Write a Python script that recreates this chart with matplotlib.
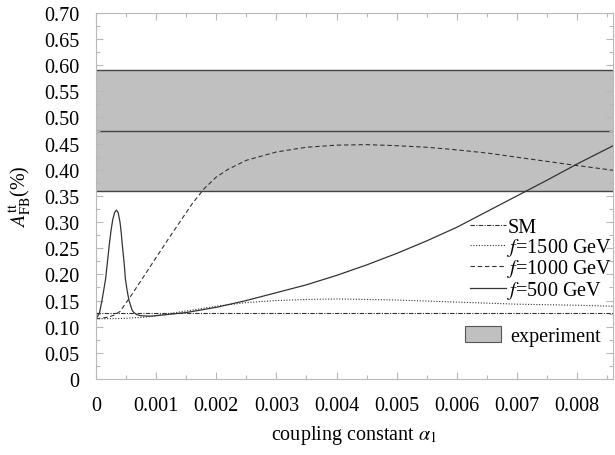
import matplotlib
matplotlib.use("Agg")
import matplotlib.pyplot as plt
from matplotlib.ticker import MultipleLocator, FuncFormatter
from matplotlib.lines import Line2D
from matplotlib.patches import Patch

plt.rcParams.update({
    "font.family": "Liberation Serif",
    "mathtext.fontset": "stix",
    "font.size": 14.5,
})

# experiment band (CDF): central value and edges
exp_low, exp_mid, exp_high = 0.36, 0.475, 0.59

# SM prediction
sm_x = [0.0, 0.0086]
sm_y = [0.126, 0.126]

# f = 1500 GeV
f1500_x = [0.0, 0.0004, 0.0008, 0.001, 0.0015, 0.002, 0.0025, 0.003, 0.0035,
           0.004, 0.0045, 0.005, 0.0055, 0.006, 0.0065, 0.007, 0.0075, 0.008, 0.0086]
f1500_y = [0.115, 0.1155, 0.118, 0.121, 0.130, 0.139, 0.146, 0.150, 0.152,
           0.153, 0.152, 0.151, 0.149, 0.147, 0.145, 0.143, 0.142, 0.141, 0.139]

# f = 1000 GeV
f1000_x = [0.0, 0.0002, 0.0003, 0.0004, 0.0006, 0.0008, 0.001, 0.0012, 0.0014,
           0.0016, 0.0018, 0.002, 0.0022, 0.0025, 0.003, 0.0035, 0.004, 0.0045,
           0.005, 0.0055, 0.006, 0.0065, 0.007, 0.0075, 0.008, 0.0086]
f1000_y = [0.115, 0.118, 0.122, 0.129, 0.162, 0.197, 0.232, 0.267, 0.301,
           0.335, 0.364, 0.386, 0.401, 0.418, 0.434, 0.443, 0.447, 0.448,
           0.446, 0.443, 0.438, 0.432, 0.424, 0.416, 0.408, 0.399]

# f = 500 GeV
f500_x = [0.0, 0.00003, 0.00006, 0.0001, 0.00013, 0.00016, 0.00019, 0.00022,
          0.00025, 0.00028, 0.00031, 0.00034, 0.00037, 0.0004, 0.00042, 0.00044,
          0.00047, 0.00049, 0.00052, 0.00055, 0.0006, 0.00063, 0.00068, 0.00074,
          0.0009, 0.001, 0.0015, 0.002, 0.0025, 0.003, 0.0035, 0.004, 0.0045,
          0.005, 0.0055, 0.006, 0.0065, 0.007, 0.0075, 0.008, 0.0086]
f500_y = [0.115, 0.120, 0.127, 0.150, 0.170, 0.191, 0.222, 0.255,
          0.283, 0.305, 0.318, 0.323, 0.318, 0.300, 0.280, 0.255,
          0.220, 0.191, 0.168, 0.150, 0.132, 0.127, 0.123, 0.121,
          0.120, 0.121, 0.127, 0.137, 0.150, 0.165, 0.180, 0.198, 0.218,
          0.240, 0.264, 0.290, 0.320, 0.350, 0.380, 0.411, 0.446]

line_col = "#333333"
spine_col = "#b8b8b8"

fig = plt.figure(figsize=(6.15, 4.56), dpi=100)
ax = fig.add_axes([0.156, 0.1667, 0.841, 0.803])

# experiment band
ax.axhspan(exp_low, exp_high, facecolor="#c0c0c0", edgecolor="none", zorder=0)
for yv in (exp_low, exp_mid, exp_high):
    ax.axhline(yv, color="#444444", lw=1.0, zorder=1)

ax.plot(sm_x, sm_y, color=line_col, lw=0.8, ls=(0, (4, 1.2, 1, 1.2)), zorder=2)
ax.plot(f1500_x, f1500_y, color=line_col, lw=0.8, ls=(0, (1, 1.5)), zorder=2)
ax.plot(f1000_x, f1000_y, color=line_col, lw=0.8, ls=(0, (4, 2.5)), zorder=2)
ax.plot(f500_x, f500_y, color=line_col, lw=0.9, ls="-", zorder=2)

ax.set_xlim(0, 0.0086)
ax.set_ylim(0, 0.70)
ax.xaxis.set_major_locator(MultipleLocator(0.001))
ax.xaxis.set_minor_locator(MultipleLocator(0.0005))
ax.yaxis.set_major_locator(MultipleLocator(0.05))
ax.yaxis.set_minor_locator(MultipleLocator(0.025))
ax.xaxis.set_major_formatter(FuncFormatter(lambda v, _: "0" if abs(v) < 1e-12 else f"{v:.3f}"))
ax.yaxis.set_major_formatter(FuncFormatter(lambda v, _: "0" if abs(v) < 1e-12 else f"{v:.2f}"))

ax.tick_params(which="both", direction="in", top=True, right=True, color=spine_col)
ax.tick_params(which="major", length=5, width=0.8)
ax.tick_params(which="minor", length=3, width=0.8)
ax.tick_params(axis="x", pad=12)
ax.tick_params(axis="y", pad=12)
for s in ax.spines.values():
    s.set_color(spine_col)
    s.set_linewidth(0.8)

ax.set_xlabel(r"coupling constant $\alpha_1$", labelpad=6)
ax.set_ylabel(r"$A_{\rm FB}^{\rm tt}$(%)", labelpad=7)

handles = [
    Line2D([], [], color=line_col, lw=0.8, ls=(0, (4, 1.2, 1, 1.2))),
    Line2D([], [], color=line_col, lw=0.8, ls=(0, (1, 1.5))),
    Line2D([], [], color=line_col, lw=0.8, ls=(0, (4, 2.5))),
    Line2D([], [], color=line_col, lw=0.9, ls="-"),
]
labels = ["SM", r"$f$=1500 GeV", r"$f$=1000 GeV", r"$f$=500 GeV"]
leg1 = ax.legend(handles, labels, loc="upper left", bbox_to_anchor=(0.723, 0.44),
                 frameon=False, borderpad=0, handlelength=1.8, handletextpad=0.05,
                 labelspacing=-0.04, borderaxespad=0)
ax.add_artist(leg1)

ax.legend([Patch(facecolor="#c0c0c0", edgecolor="#555555", lw=0.8)], ["experiment"],
          loc="center left", bbox_to_anchor=(0.714, 0.118), frameon=False,
          borderpad=0, handlelength=1.8, handleheight=0.85, handletextpad=0.45,
          borderaxespad=0)

fig.savefig("out.png", dpi=100)
